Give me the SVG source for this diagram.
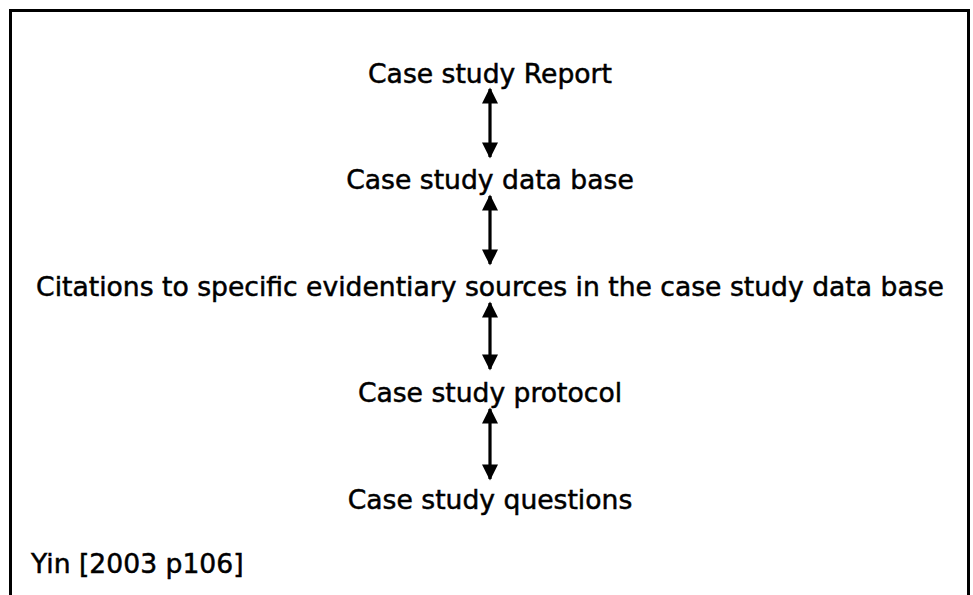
<svg xmlns="http://www.w3.org/2000/svg" width="973" height="595" viewBox="0 0 973 595">
<style>
  text { font-family: "DejaVu Sans", Verdana, sans-serif; font-size: 26.6px; fill: #000; stroke: #000; stroke-width: 0.5px; }
  .c { text-anchor: middle; }
  .conn line { stroke: #000; stroke-width: 3.2; marker-start: url(#ah); marker-end: url(#ah); }
</style>
<defs>
  <marker id="ah" viewBox="0 0 10 10" refX="9" refY="5" markerWidth="5.4" markerHeight="5" orient="auto-start-reverse" markerUnits="strokeWidth">
    <path d="M0,0 L10,5 L0,10 Z" fill="#000"/>
  </marker>
</defs>
<rect width="973" height="595" fill="#fff"/>
<path d="M10.5,600 V10.5 H968.5 V600" fill="none" stroke="#000" stroke-width="3"/>
<g id="report"><text class="c" x="490" y="83">Case study Report</text></g>
<g id="database"><text class="c" x="490" y="189">Case study data base</text></g>
<g id="citations"><text class="c" x="490" y="296">Citations to specific evidentiary sources in the case study data base</text></g>
<g id="protocol"><text class="c" x="490" y="402">Case study protocol</text></g>
<g id="questions"><text class="c" x="490" y="509">Case study questions</text></g>
<g id="source"><text x="31" y="573">Yin [2003 p106]</text></g>
<g class="conn">
  <line x1="490" y1="89" x2="490" y2="157"/>
  <line x1="490" y1="196" x2="490" y2="264"/>
  <line x1="490" y1="303" x2="490" y2="369"/>
  <line x1="490" y1="409" x2="490" y2="479"/>
</g>
</svg>
